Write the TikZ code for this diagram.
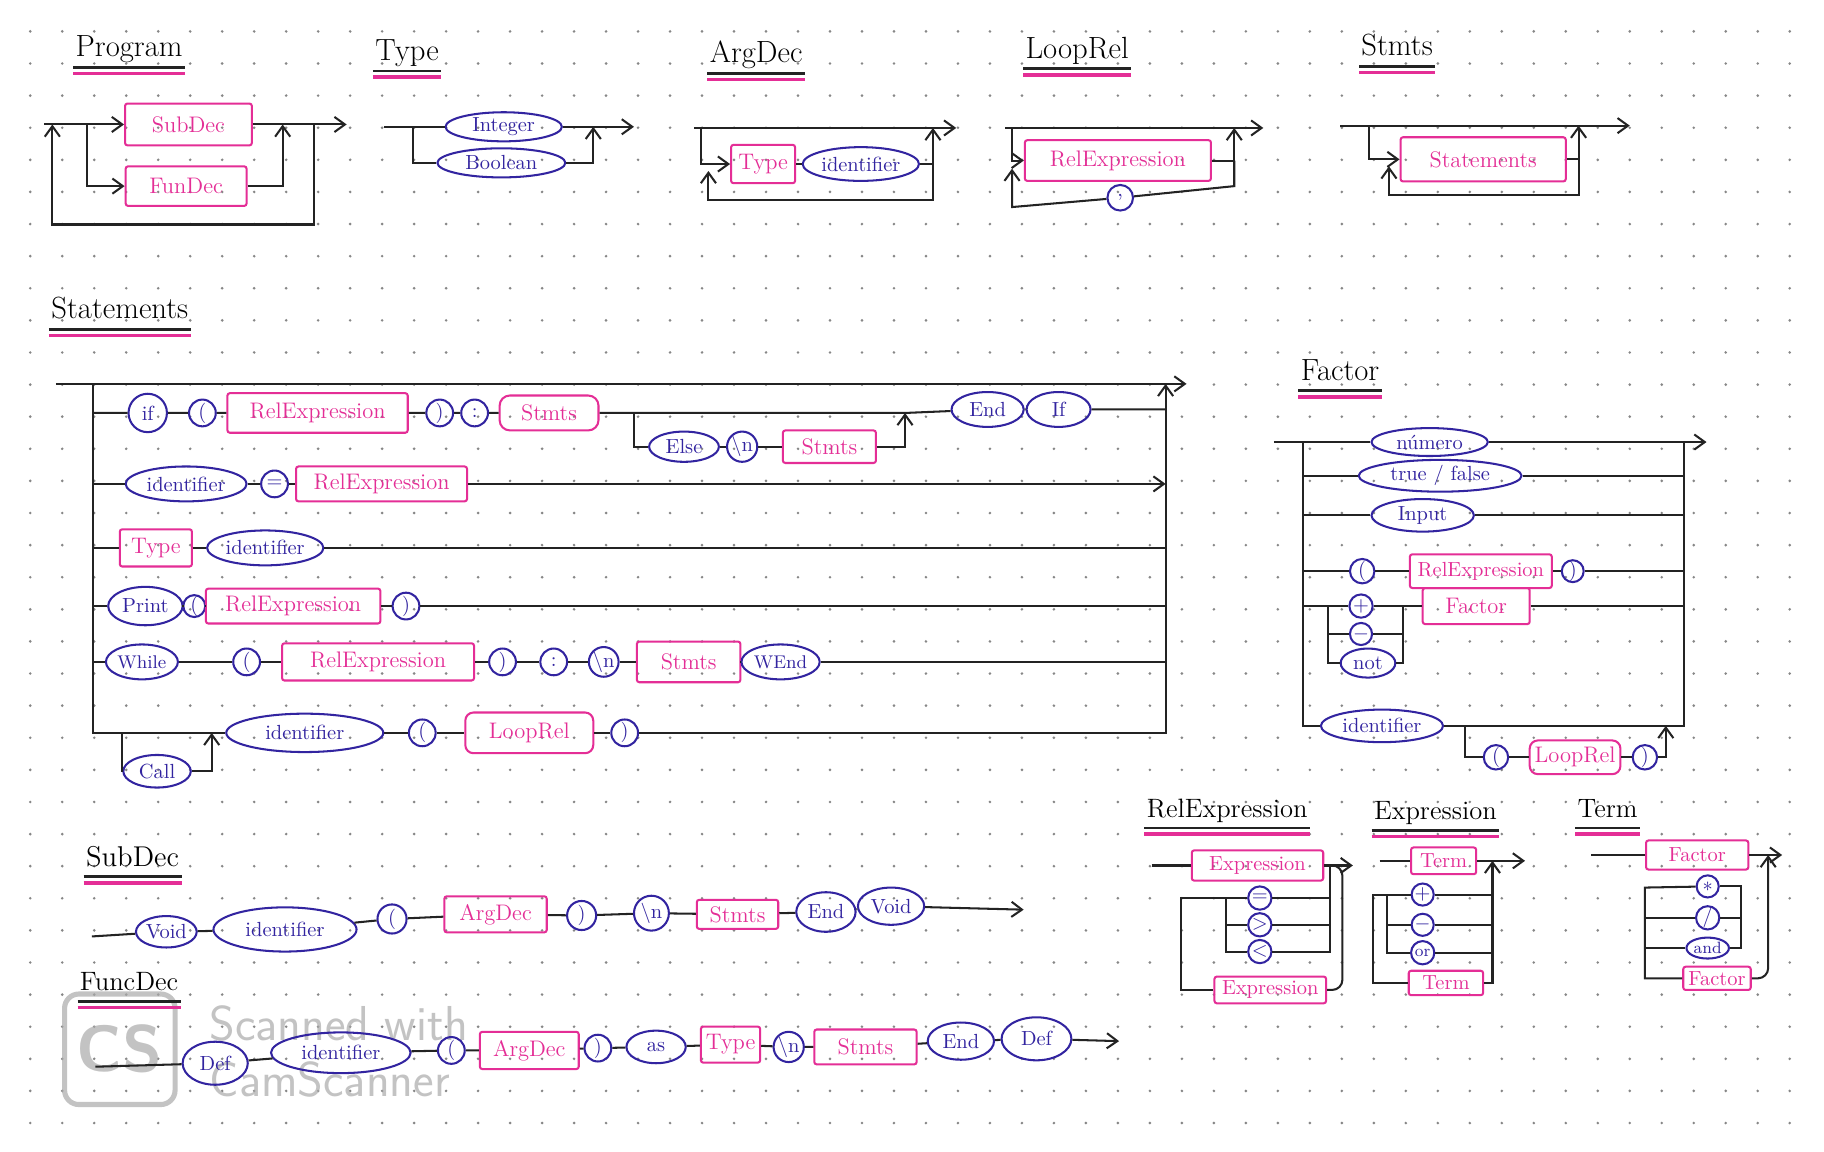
\documentclass[tikz,border=0pt]{standalone}
\usetikzlibrary{shapes.geometric,arrows.meta}

\definecolor{ntpink}{RGB}{228,46,150}
\definecolor{tmblue}{RGB}{50,36,160}
\definecolor{railc}{RGB}{35,35,35}
\definecolor{dotc}{RGB}{135,135,135}
\definecolor{wmgray}{RGB}{170,170,170}

\tikzset{
  rail/.style={draw=railc, line width=1pt},
  nt/.style={draw=ntpink, text=ntpink, line width=1pt, rectangle, rounded corners=1.2pt,
    minimum height=5.8mm, inner sep=2pt, font=\fontsize{11}{13}\selectfont},
  tm/.style={draw=tmblue, text=tmblue, line width=1pt, ellipse, minimum height=5.6mm,
    inner sep=0.5pt, font=\fontsize{10}{12}\selectfont},
  sym/.style={draw=tmblue, text=tmblue, line width=1pt, circle, minimum size=4.6mm,
    inner sep=0pt, font=\fontsize{10}{12}\selectfont},
  ttl/.style={inner sep=1pt, text depth=0.25em, font=\fontsize{15}{18}\selectfont},
  ulk/.style={draw=railc, line width=1.3pt},
  ulm/.style={draw=ntpink, line width=1.7pt},
  fsmall/.style={font=\fontsize{10}{12}\selectfont},
  fnine/.style={font=\fontsize{9}{11}\selectfont},
  ftiny/.style={font=\fontsize{8}{9}\selectfont},
}

\begin{document}
\begin{tikzpicture}[x=0.2mm, y=-0.2mm, >={Straight Barb[length=1.8mm,width=2.6mm]}]
    % Define page and dot grid
    \fill[white] (0,0) rectangle (1568,990);
    \useasboundingbox (0,0) rectangle (1568,990);
    \foreach \i in {0,...,55}
      \foreach \j in {0,...,34}
        \fill[dotc] (26+27.5*\i, 27+27.6*\j) circle (0.25mm);

    % Scanner watermark (under the drawing)
    \node[draw=wmgray, text=wmgray, line width=2.5pt, rounded corners=7pt, opacity=0.7,
      minimum width=19mm, minimum height=19mm,
      font=\sffamily\bfseries\fontsize{32}{32}\selectfont] (wmLogo) at (103,902) {CS};
    \node[anchor=west, text=wmgray, opacity=0.7, font=\sffamily\fontsize{24}{26}\selectfont]
      (wmTop) at (174,880) {Scanned with};
    \node[anchor=west, text=wmgray, opacity=0.7, font=\sffamily\fontsize{24}{26}\selectfont]
      (wmBot) at (174,928) {CamScanner};

    % Titles
    \node[ttl] (tPgm) at (111,42) {Program};
    \node[ttl] (tType) at (350,45) {Type};
    \node[ttl] (tArg) at (650,47) {ArgDec};
    \node[ttl] (tLoop) at (926,43) {LoopRel};
    \node[ttl] (tStm) at (1201,41) {Stmts};
    \node[ttl] (tStat) at (103,267) {Statements};
    \node[ttl] (tFac) at (1152,320) {Factor};
    \node[ttl, font=\fontsize{13}{15}\selectfont] (tRel) at (1055,697) {RelExpression};
    \node[ttl, font=\fontsize{13}{15}\selectfont] (tExp) at (1234,699) {Expression};
    \node[ttl, font=\fontsize{13}{15}\selectfont] (tTerm) at (1382,697) {Term};
    \node[ttl, font=\fontsize{14}{16}\selectfont] (tSub) at (114,738) {SubDec};
    \node[ttl, font=\fontsize{13}{15}\selectfont] (tFunc) at (111,846) {FuncDec};
    \foreach \tn in {tPgm,tType,tArg,tLoop,tStm,tStat,tFac,tRel,tExp,tTerm,tSub,tFunc}{
      \draw[ulk] ([yshift=-1.5pt]\tn.south west) -- ([yshift=-1.5pt]\tn.south east);
      \draw[ulm] ([yshift=-4.5pt]\tn.south west) -- ([yshift=-4.5pt]\tn.south east);
    }

    % Program
    \coordinate (pgL) at (38,107);
    \coordinate (pgR) at (298,107);
    \coordinate (pgLoop) at (45,107);
    \coordinate (pgA) at (75,107);
    \coordinate (pgB) at (243,107);
    \coordinate (pgC) at (270,107);
    \coordinate (pgBot) at (45,193);
    \node[nt, minimum width=21.8mm, minimum height=7.2mm] (pgSub) at (162,107) {SubDec};
    \node[nt, minimum width=20.8mm, minimum height=6.8mm] (pgFun) at (160,160) {FunDec};
    \draw[rail, ->] (pgL) -- (pgSub.west);
    \draw[rail, ->] (pgSub.east) -- (pgR);
    \draw[rail, ->] (pgA) |- (pgFun.west);
    \draw[rail, ->] (pgFun.east) -| (pgB);
    \draw[rail, ->] (pgC) |- (pgBot) -- (pgLoop);

    % Type
    \coordinate (tyL) at (330,109);
    \coordinate (tyA) at (355,109);
    \coordinate (tyB) at (510,109);
    \coordinate (tyR) at (545,109);
    \node[tm, minimum width=20mm, minimum height=5mm] (tyInt) at (433,109) {Integer};
    \node[tm, minimum width=22mm, minimum height=5mm] (tyBool) at (431,140) {Boolean};
    \draw[rail] (tyL) -- (tyInt);
    \draw[rail, ->] (tyInt) -- (tyR);
    \draw[rail] (tyA) |- (tyBool.west);
    \draw[rail, ->] (tyBool.east) -| (tyB);

    % ArgDec
    \coordinate (agL) at (597,110);
    \coordinate (agR) at (822,110);
    \coordinate (agA) at (603,110);
    \coordinate (agB) at (802,110);
    \coordinate (agC) at (802,172);
    \coordinate (agD) at (609,147);
    \node[nt, minimum width=11mm, minimum height=6.6mm] (agType) at (656,141) {Type};
    \node[tm, minimum width=20mm, minimum height=5.8mm] (agId) at (740,141) {identifier};
    \draw[rail, ->] (agL) -- (agR);
    \draw[rail, ->] (agA) |- (agType.west);
    \draw[rail] (agType) -- (agId);
    \draw[rail, ->] (agId.east) -| (agB);
    \draw[rail, ->] (agB |- agId.east) -- (agC) -| (agD);

    % LoopRel
    \coordinate (lrL) at (864,110);
    \coordinate (lrR) at (1086,110);
    \coordinate (lrA) at (870,110);
    \coordinate (lrB) at (1061,110);
    \coordinate (lrC) at (1061,160);
    \coordinate (lrD) at (870,178);
    \coordinate (lrE) at (870,145);
    \node[nt, minimum width=32mm, minimum height=7mm] (lrRel) at (961,138) {RelExpression};
    \node[sym, minimum size=4.4mm] (lrCom) at (963,170) {,};
    \draw[rail, ->] (lrL) -- (lrR);
    \draw[rail, ->] (lrA) |- (lrRel.west);
    \draw[rail, ->] (lrRel.east) -| (lrB);
    \draw[rail] (lrB |- lrRel.east) -- (lrC) -- (lrCom);
    \draw[rail, ->] (lrCom) -- (lrD) -- (lrE);

    % Stmts
    \coordinate (stL) at (1152,108);
    \coordinate (stR) at (1401,108);
    \coordinate (stA) at (1177,108);
    \coordinate (stB) at (1357,108);
    \coordinate (stC) at (1357,168);
    \coordinate (stE) at (1194,143);
    \node[nt, minimum width=28.4mm, minimum height=7.6mm] (stBox) at (1275,137) {Statements};
    \draw[rail, ->] (stL) -- (stR);
    \draw[rail, ->] (stA) |- (stBox.west);
    \draw[rail, ->] (stBox.east) -| (stB);
    \draw[rail, ->] (stB |- stBox.east) -- (stC) -| (stE);

    % Statements
    \coordinate (smL) at (48,330);
    \coordinate (smR) at (1020,330);
    \coordinate (smTL) at (80,330);
    \coordinate (smTR) at (1002,330);
    \draw[rail, ->] (smL) -- (smR);

    % row: if
    \node[sym, minimum size=6.6mm] (s1If) at (127,355) {if};
    \node[sym] (s1Lp) at (174,355) {(};
    \node[nt, minimum width=31mm, minimum height=6.8mm] (s1Rel) at (273,355) {RelExpression};
    \node[sym] (s1Rp) at (378,355) {)};
    \node[sym] (s1Col) at (408,355) {:};
    \node[nt, rounded corners=5pt, minimum width=17mm, minimum height=6mm] (s1St) at (472,355) {Stmts};
    \node[tm, minimum width=12.4mm, minimum height=6mm] (s1End) at (849,352) {End};
    \node[tm, minimum width=11mm, minimum height=6mm] (s1Fi) at (910,352) {If};
    \node[tm, minimum width=12mm, minimum height=5.2mm] (s1Else) at (588,384) {Else};
    \node[sym, minimum size=5.2mm] (s1Nl) at (638,384) {\textbackslash n};
    \node[nt, minimum width=16mm, minimum height=5.6mm] (s1St2) at (713,384) {Stmts};
    \coordinate (s1A) at (545,355);
    \coordinate (s1B) at (778,355);
    \draw[rail] (s1If.west -| smTL) -- (s1If) -- (s1Lp) -- (s1Rel) -- (s1Rp) -- (s1Col) -- (s1St)
      -- (s1St.east -| s1B) -- (s1End) -- (s1Fi) -- (s1Fi.east -| smTR);
    \draw[rail] (s1A) |- (s1Else.west);
    \draw[rail] (s1Else) -- (s1Nl) -- (s1St2);
    \draw[rail, ->] (s1St2.east) -| (s1B);

    % row: assignment
    \node[tm, minimum width=20.8mm, minimum height=6mm] (s2Id) at (160,416) {identifier};
    \node[sym] (s2Eq) at (236,416) {=};
    \node[nt, minimum width=29.4mm, minimum height=6mm] (s2Rel) at (328,416) {RelExpression};
    \draw[rail] (s2Id.west -| smTL) -- (s2Id) -- (s2Eq) -- (s2Rel);
    \draw[rail, ->] (s2Rel.east) -- (s2Rel.east -| smTR);

    % row: declaration
    \node[nt, minimum width=12.4mm, minimum height=6.4mm] (s3Type) at (134,471) {Type};
    \node[tm, minimum width=20mm, minimum height=6mm] (s3Id) at (228,471) {identifier};
    \draw[rail] (s3Type.west -| smTL) -- (s3Type) -- (s3Id) -- (s3Id.east -| smTR);

    % row: print
    \node[tm, minimum width=12.8mm, minimum height=6.6mm] (s4Pr) at (125,521) {Print};
    \node[sym, minimum size=3.6mm] (s4Lp) at (167,521) {(};
    \node[nt, minimum width=30mm, minimum height=6mm] (s4Rel) at (252,521) {RelExpression};
    \node[sym] (s4Rp) at (349,521) {)};
    \draw[rail] (s4Pr.west -| smTL) -- (s4Pr) -- (s4Lp) -- (s4Rel) -- (s4Rp) -- (s4Rp.east -| smTR);

    % row: while
    \node[tm, fnine, minimum width=11.6mm, minimum height=6mm] (s5Wh) at (122,569) {While};
    \node[sym] (s5Lp) at (212,569) {(};
    \node[nt, minimum width=33mm, minimum height=6.4mm] (s5Rel) at (325,569) {RelExpression};
    \node[sym] (s5Rp) at (432,569) {)};
    \node[sym] (s5Col) at (476,569) {:};
    \node[sym] (s5Nl) at (519,569) {\textbackslash n};
    \node[nt, minimum width=17.8mm, minimum height=7mm] (s5St) at (592,569) {Stmts};
    \node[tm, fnine, minimum width=11.4mm, minimum height=6mm] (s5WE) at (671,569) {WEnd};
    \draw[rail] (s5Wh.west -| smTL) -- (s5Wh) -- (s5Lp) -- (s5Rel) -- (s5Rp) -- (s5Col) -- (s5Nl)
      -- (s5St) -- (s5WE) -- (s5WE.east -| smTR);

    % row: call
    \node[tm, minimum width=27mm, minimum height=6.6mm] (s6Id) at (262,630) {identifier};
    \node[sym] (s6Lp) at (363,630) {(};
    \node[nt, rounded corners=4pt, minimum width=22mm, minimum height=7mm] (s6Loop) at (455,630) {LoopRel};
    \node[sym] (s6Rp) at (537,630) {)};
    \node[tm, minimum width=11.6mm, minimum height=5.6mm] (s6Call) at (135,663) {Call};
    \coordinate (s6A) at (105,630);
    \coordinate (s6B) at (182,630);
    \draw[rail] (smTL) |- (s6Id.west);
    \draw[rail] (s6Id) -- (s6Lp) -- (s6Loop) -- (s6Rp);
    \draw[rail, ->] (s6Rp.east) -| (smTR);
    \draw[rail] (s6A) |- (s6Call.west);
    \draw[rail, ->] (s6Call.east) -| (s6B);

    % Factor
    \coordinate (fcL) at (1095,380);
    \coordinate (fcR) at (1467,380);
    \coordinate (fcTL) at (1120,380);
    \coordinate (fcTR) at (1448,380);
    \node[tm, minimum width=20mm, minimum height=4.8mm] (fcNum) at (1229,380) {n\'umero};
    \node[tm, minimum width=28mm, minimum height=4.8mm] (fcTF) at (1238,409) {true / false};
    \node[tm, minimum width=17.6mm, minimum height=5.6mm] (fcIn) at (1223,443) {Input};
    \node[sym, minimum size=4.2mm] (fcLp) at (1171,491) {(};
    \node[nt, fsmall, minimum width=24.4mm, minimum height=5.8mm] (fcRel) at (1273,491) {RelExpression};
    \node[sym, minimum size=3.6mm] (fcRp) at (1352,491) {)};
    \node[sym, minimum size=4mm] (fcPl) at (1170,521) {+};
    \node[nt, minimum width=18.4mm, minimum height=6.2mm] (fcFac) at (1269,521) {Factor};
    \node[sym, minimum size=3.8mm] (fcMi) at (1170,545) {$-$};
    \node[tm, minimum width=9.4mm, minimum height=5mm] (fcNot) at (1176,570) {not};
    \node[tm, minimum width=21mm, minimum height=5.6mm] (fcId) at (1188,624) {identifier};
    \node[sym, minimum size=4.2mm] (fcLp2) at (1286,651) {(};
    \node[nt, rounded corners=4pt, minimum width=15.6mm, minimum height=5.8mm] (fcLoop) at (1354,651) {LoopRel};
    \node[sym, minimum size=4.2mm] (fcRp2) at (1414,651) {)};
    \coordinate (fcS1) at (1142,521);
    \coordinate (fcS2) at (1206,521);
    \coordinate (fcI1) at (1259,624);
    \coordinate (fcI2) at (1432,624);
    \draw[rail, ->] (fcL) -- (fcNum) -- (fcR);
    \draw[rail] (fcTL) |- (fcId.west);
    \draw[rail] (fcId.east) -| (fcTR);
    \draw[rail] (fcTF.west -| fcTL) -- (fcTF) -- (fcTF.east -| fcTR);
    \draw[rail] (fcIn.west -| fcTL) -- (fcIn) -- (fcIn.east -| fcTR);
    \draw[rail] (fcLp.west -| fcTL) -- (fcLp) -- (fcRel) -- (fcRp) -- (fcRp.east -| fcTR);
    \draw[rail] (fcPl.west -| fcTL) -- (fcPl) -- (fcFac) -- (fcFac.east -| fcTR);
    \draw[rail] (fcS1) |- (fcMi.west);
    \draw[rail] (fcS1) |- (fcNot.west);
    \draw[rail] (fcMi.east) -| (fcS2);
    \draw[rail] (fcNot.east) -| (fcS2);
    \draw[rail] (fcI1) |- (fcLp2.west);
    \draw[rail] (fcLp2) -- (fcLoop) -- (fcRp2);
    \draw[rail, ->] (fcRp2.east) -| (fcI2);

    % RelExpression
    \coordinate (reL) at (990,744);
    \coordinate (reR) at (1163,744);
    \coordinate (reOL) at (1015,772);
    \coordinate (reIL) at (1054,772);
    \coordinate (reIR) at (1143,744);
    \coordinate (reCv) at (1154,851);
    \node[nt, fsmall, minimum width=22.6mm, minimum height=5.2mm] (reE1) at (1081,744) {Expression};
    \node[sym, minimum size=4mm] (reEq) at (1083,772) {=};
    \node[sym, minimum size=4mm] (reGt) at (1083,795) {$>$};
    \node[sym, minimum size=4mm] (reLt) at (1083,818) {$<$};
    \node[nt, fsmall, minimum width=19.2mm, minimum height=4.6mm] (reE2) at (1092,851) {Expression};
    \draw[rail, ->] (reL) -- (reE1) -- (reR);
    \draw[rail] (reE2.west) -| (reOL) -- (reEq);
    \draw[rail] (reIL) |- (reLt.west);
    \draw[rail] (reGt.west -| reIL) -- (reGt);
    \draw[rail] (reEq.east) -- (reEq.east -| reIR);
    \draw[rail] (reGt.east) -- (reGt.east -| reIR);
    \draw[rail] (reLt.east) -| (reIR);
    \draw[rail, rounded corners=5pt] (reIR) -| (reCv) -- (reE2.east);

    % Expression
    \coordinate (exL) at (1186,740);
    \coordinate (exR) at (1311,740);
    \coordinate (exOL) at (1180,769);
    \coordinate (exIL) at (1192,769);
    \coordinate (exIR) at (1283,740);
    \node[nt, fsmall, minimum width=11.2mm, minimum height=4.6mm] (exT1) at (1241,740) {Term};
    \node[sym, minimum size=3.8mm] (exPl) at (1223,769) {+};
    \node[sym, minimum size=3.8mm] (exMi) at (1223,795) {$-$};
    \node[sym, ftiny, minimum size=4mm] (exOr) at (1223,819) {or};
    \node[nt, fsmall, minimum width=12.8mm, minimum height=4.2mm] (exT2) at (1243,845) {Term};
    \draw[rail, ->] (exL) -- (exT1) -- (exR);
    \draw[rail] (exT2.west) -| (exOL) -- (exPl);
    \draw[rail] (exIL) |- (exOr.west);
    \draw[rail] (exMi.west -| exIL) -- (exMi);
    \draw[rail] (exPl.east) -- (exPl.east -| exIR);
    \draw[rail] (exMi.east) -- (exMi.east -| exIR);
    \draw[rail] (exOr.east) -- (exOr.east -| exIR);
    \draw[rail, ->] (exT2.east) -| (exIR);

    % Term
    \coordinate (tmL) at (1368,735);
    \coordinate (tmR) at (1532,735);
    \coordinate (tmOL) at (1414,763);
    \coordinate (tmIR) at (1497,763);
    \coordinate (tmCv) at (1520,735);
    \node[nt, fsmall, minimum width=17.6mm, minimum height=5mm] (tmF1) at (1459,735) {Factor};
    \node[sym, minimum size=3.8mm] (tmMul) at (1468,762) {$*$};
    \node[sym, minimum size=4mm] (tmDiv) at (1468,789) {/};
    \node[tm, ftiny, minimum width=7mm, minimum height=3.6mm] (tmAnd) at (1468,815) {and};
    \node[nt, fsmall, minimum width=11.6mm, minimum height=4mm] (tmF2) at (1476,841) {Factor};
    \draw[rail, ->] (tmL) -- (tmF1) -- (tmR);
    \draw[rail] (tmF2.west) -| (tmOL) -- (tmMul);
    \draw[rail] (tmDiv.west -| tmOL) -- (tmDiv);
    \draw[rail] (tmAnd.west -| tmOL) -- (tmAnd);
    \draw[rail] (tmMul.east) -- (tmMul.east -| tmIR) |- (tmAnd.east);
    \draw[rail] (tmDiv.east) -- (tmDiv.east -| tmIR);
    \draw[rail, ->, rounded corners=5pt] (tmF2.east) -| (tmCv);

    % SubDec
    \coordinate (sdL) at (79,805);
    \coordinate (sdR) at (880,782);
    \node[tm, minimum width=9.4mm, minimum height=5.4mm] (sdVoid) at (143,801) {Void};
    \node[tm, minimum width=24.6mm, minimum height=7.6mm] (sdId) at (245,799) {identifier};
    \node[sym, minimum size=5mm] (sdLp) at (337,790) {(};
    \node[nt, minimum width=17.6mm, minimum height=6.2mm] (sdArg) at (426,786) {ArgDec};
    \node[sym, minimum size=5mm] (sdRp) at (500,787) {)};
    \node[sym, minimum size=6mm] (sdNl) at (560,785) {\textbackslash n};
    \node[nt, minimum width=14mm, minimum height=5mm] (sdSt) at (634,786) {Stmts};
    \node[tm, minimum width=10.2mm, minimum height=6.8mm] (sdEnd) at (710,784) {End};
    \node[tm, minimum width=11.4mm, minimum height=6.4mm] (sdVoid2) at (766,779) {Void};
    \draw[rail, ->] (sdL) -- (sdVoid) -- (sdId) -- (sdLp) -- (sdArg) -- (sdRp) -- (sdNl) -- (sdSt)
      -- (sdEnd) -- (sdVoid2) -- (sdR);

    % FuncDec
    \coordinate (fdL) at (82,917);
    \coordinate (fdR) at (962,895);
    \node[tm, minimum width=11.2mm, minimum height=7.4mm] (fdDef) at (185,914) {Def};
    \node[tm, minimum width=24mm, minimum height=7mm] (fdId) at (293,905) {identifier};
    \node[sym] (fdLp) at (388,903) {(};
    \node[nt, minimum width=17mm, minimum height=6.4mm] (fdArg) at (455,903) {ArgDec};
    \node[sym] (fdRp) at (514,901) {)};
    \node[tm, minimum width=10.2mm, minimum height=5.6mm] (fdAs) at (564,900) {as};
    \node[nt, minimum width=10.2mm, minimum height=6.2mm] (fdType) at (628,898) {Type};
    \node[sym, minimum size=5.2mm] (fdNl) at (678,900) {\textbackslash n};
    \node[nt, minimum width=17.6mm, minimum height=6mm] (fdSt) at (744,900) {Stmts};
    \node[tm, minimum width=11.4mm, minimum height=6.4mm] (fdEnd) at (826,895) {End};
    \node[tm, minimum width=12mm, minimum height=7.4mm] (fdDef2) at (891,893) {Def};
    \draw[rail, ->] (fdL) -- (fdDef) -- (fdId) -- (fdLp) -- (fdArg) -- (fdRp) -- (fdAs) -- (fdType)
      -- (fdNl) -- (fdSt) -- (fdEnd) -- (fdDef2) -- (fdR);
\end{tikzpicture}
\end{document}
